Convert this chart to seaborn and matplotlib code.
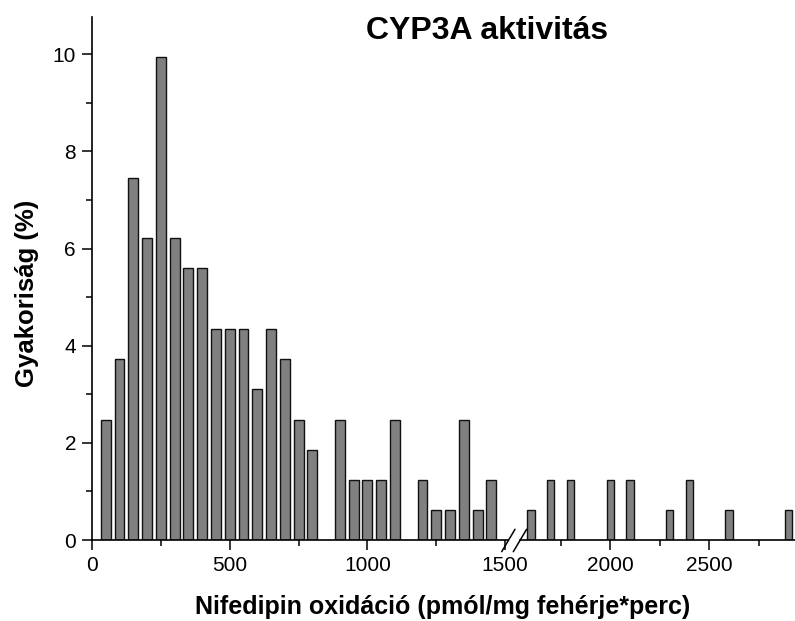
import matplotlib
matplotlib.use("Agg")
import matplotlib.pyplot as plt
from matplotlib.lines import Line2D
from matplotlib.ticker import FixedLocator
import seaborn as sns
import pandas as pd

# Bin centres (pmol/mg protein*min) and frequency (%)
bin_centers = [50, 100, 150, 200, 250, 300, 350, 400, 450, 500, 550, 600, 650,
               700, 750, 800, 900, 950, 1000, 1050, 1100, 1200, 1250, 1300,
               1350, 1400, 1450, 1600, 1700, 1800, 2000, 2100, 2300, 2400,
               2600, 2900]
frequency = [2.48, 3.73, 7.45, 6.21, 9.94, 6.21, 5.59, 5.59, 4.35, 4.35, 4.35,
             3.11, 4.35, 3.73, 2.48, 1.86, 2.48, 1.24, 1.24, 1.24, 2.48, 1.24,
             0.62, 0.62, 2.48, 0.62, 1.24, 0.62, 1.24, 1.24, 1.24, 1.24, 0.62,
             1.24, 0.62, 0.62]

left_major = [0, 500, 1000, 1500]
left_minor = [250, 750, 1250]
right_major = [2000, 2500]
right_minor = [1750, 2250, 2750]
y_major = [0, 2, 4, 6, 8, 10]
y_minor = [1, 3, 5, 7, 9]

title = "CYP3A aktivitás"
xlabel = "Nifedipin oxidáció (pmól/mg fehérje*perc)"
ylabel = "Gyakoriság (%)"

sns.set_theme(style="white")
plt.rcParams["font.family"] = ["Liberation Sans", "DejaVu Sans"]
plt.rcParams["text.color"] = "black"
plt.rcParams["xtick.color"] = "black"
plt.rcParams["ytick.color"] = "black"

df = pd.DataFrame({"x": bin_centers, "y": frequency})

W, H = 795, 621
fig = plt.figure(figsize=(W / 100, H / 100), dpi=100)

def fx(px):
    return px / W

def fy(py):
    return 1 - py / H

ax_bottom = fy(540)
ax_height = (540 - 17.3) / H
axL = fig.add_axes([fx(92), ax_bottom, fx(508) - fx(92), ax_height])
axR = fig.add_axes([fx(520), ax_bottom, fx(795) - fx(520), ax_height])

for ax in (axL, axR):
    sns.barplot(data=df, x="x", y="y", native_scale=True, width=0.72,
                color="#808080", edgecolor="#111111", linewidth=1.0,
                saturation=1, errorbar=None, ax=ax)
    ax.set_ylim(0, 10.76)
    ax.set_xlabel("")
    ax.set_ylabel("")
    ax.set_facecolor("none")
    for s in ("top", "right"):
        ax.spines[s].set_visible(False)
    ax.spines["bottom"].set_linewidth(1.2)
    ax.spines["bottom"].set_color("black")
    ax.tick_params(axis="both", which="major", direction="out", length=7.5,
                   width=1.1, color="black", labelsize=15, pad=4,
                   labelcolor="black")
    ax.tick_params(axis="both", which="minor", direction="out", length=4,
                   width=1.1, color="black")

axL.set_xlim(0, (508 - 92) / 0.2754)
axR.set_xlim(1500 + (520 - 511.2) / 0.198, 1500 + (795 - 511.2) / 0.198)

axL.xaxis.set_major_locator(FixedLocator(left_major))
axL.xaxis.set_minor_locator(FixedLocator(left_minor))
axL.set_xticklabels([str(v) for v in left_major])
axR.xaxis.set_major_locator(FixedLocator(right_major))
axR.xaxis.set_minor_locator(FixedLocator(right_minor))
axR.set_xticklabels([str(v) for v in right_major])

axL.yaxis.set_major_locator(FixedLocator(y_major))
axL.yaxis.set_minor_locator(FixedLocator(y_minor))
axL.set_yticklabels([str(v) for v in y_major])
axL.spines["left"].set_linewidth(1.2)
axL.spines["left"].set_color("black")
axL.tick_params(axis="x", which="both", bottom=True)
axL.tick_params(axis="y", which="both", left=True)

axR.spines["left"].set_visible(False)
axR.tick_params(axis="y", which="both", left=False, labelleft=False)
axR.tick_params(axis="x", which="both", bottom=True)

# axis break marks
for x0 in (501.7, 513.3):
    fig.add_artist(Line2D([fx(x0), fx(x0 + 13.3)], [fy(551.7), fy(529.3)],
                          transform=fig.transFigure, color="black", lw=1.1))

fig.text(fx(487.5), fy(31), title, fontsize=23, fontweight="bold",
         ha="center", va="center", color="black")
fig.text(fx(443), fy(607), xlabel, fontsize=18, fontweight="bold",
         ha="center", va="center", color="black")
fig.text(fx(27), fy(293.5), ylabel, fontsize=18.5, fontweight="bold",
         ha="center", va="center", rotation=90, color="black")

fig.savefig("out.png", dpi=100)
